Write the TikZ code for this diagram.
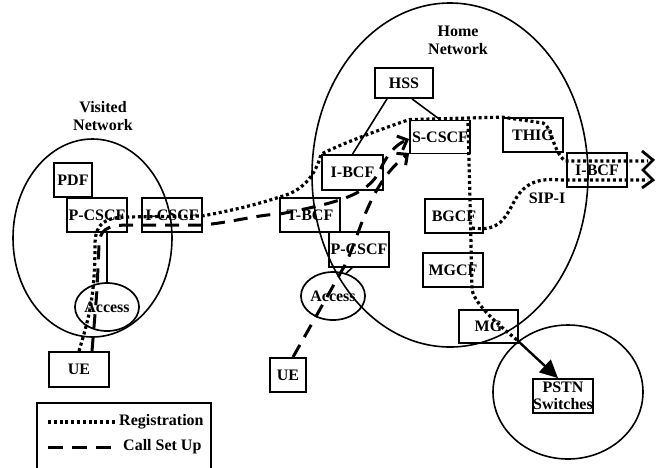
\documentclass[tikz,border=0pt]{standalone}
\usepackage{fontspec}
\setmainfont{Liberation Serif}
\usetikzlibrary{shapes.geometric,arrows.meta}
\tikzset{
  box/.style={draw, line width=1.8pt, inner sep=0pt, minimum width=60pt, minimum height=34pt,
    align=center, font=\fontsize{16}{17}\selectfont\bfseries},
  accessnode/.style={draw, ellipse, line width=1.7pt, inner sep=0pt, minimum width=57pt, minimum height=48pt,
    font=\fontsize{16}{18}\selectfont\bfseries},
  lbl/.style={font=\fontsize{16}{18}\selectfont\bfseries, align=center, inner sep=0pt},
  netline/.style={line width=1.6pt},
  conn/.style={line width=1.6pt},
  reg/.style={line width=3.2pt, dash pattern=on 3pt off 2.8pt},
  csu/.style={line width=3pt, dash pattern=on 14pt off 9pt},
  barb/.style={-{Straight Barb[length=8pt,width=15pt]}}
}
\begin{document}
\begin{tikzpicture}[x=1pt,y=-1pt]
\useasboundingbox (0,0) rectangle (658,467);
\clip (0,0) rectangle (658,467);

% networks
\draw[netline] (92.5,238) ellipse [x radius=79.5pt, y radius=99pt];
\draw[netline] (450,175) ellipse [x radius=138pt, y radius=172pt];
\draw[netline] (568,392) ellipse [x radius=75pt, y radius=67pt];

\node[lbl] (vnet) at (103,116) {Visited\\Network};
\node[lbl] (hnet) at (458,40) {Home\\Network};
\node[lbl] (sipi) at (547,198) {SIP-I};

% visited network
\node[box, minimum width=38pt] (pdf) at (73,180) {PDF};
\node[box] (vpcscf) at (97,215) {P-CSCF};
\node[box] (icscf) at (172,215) {I-CSCF};
\node[accessnode, minimum width=58pt] (vacc) at (107,307) {Access};
\node[box, minimum height=35pt] (vue) at (79,369.5) {UE};

% home network
\node[box, minimum width=58pt, minimum height=30pt] (hss) at (404,83) {HSS};
\node[box, minimum height=33pt] (scscf) at (440,137) {S-CSCF};
\node[box, minimum width=61pt, minimum height=35pt] (ibcfa) at (352.5,172.5) {I-BCF};
\node[box] (tbcf) at (310,215) {T-BCF};
\node[box, minimum height=35pt] (hpcscf) at (359,249.5) {P-CSCF};
\node[accessnode, minimum width=56pt] (hacc) at (333,296) {Access};
\node[box, minimum width=36pt] (hue) at (288,375) {UE};
\node[box] (thig) at (533,135) {THIG};
\node[box] (ibcfb) at (597,170) {I-BCF};
\node[box, minimum width=58pt] (bgcf) at (454,216) {BGCF};
\node[box] (mgcf) at (453,270) {MGCF};
\node[box, minimum width=59pt, minimum height=33pt] (mg) at (488.5,326.5) {MG};
\node[box] (pstn) at (563,396) {PSTN\\Switches};

% solid links
\draw[conn] ([xshift=-17pt]hss.south) -- (ibcfa.north);
\draw[conn] ([xshift=8pt]hss.south) -- (scscf.north);
\draw[conn] ([xshift=10pt]vpcscf.south) -- (vacc.north);
\draw[conn] ([xshift=-7pt]hpcscf.south) -- (hacc.60);

% registration (dotted)
\draw[reg] (vue.north) .. controls (88,320) and (95,300) .. (95,245)
  .. controls (95,224) and (104,218) .. (125,217) -- (202,216)
  .. controls (235,210) and (262,203) .. (tbcf.north west)
  .. controls (310,190) and (318,165) .. (ibcfa.north west)
  .. controls (350,140) and (385,128) .. (scscf.north west)
  -- (thig.north west) -- (543,123)
  .. controls (552,126) and (552,150) .. (565,161) -- (648,161);
\draw[reg] (468,123) -- (470,200) -- (472,290)
  .. controls (476,305) and (495,322) .. (517,340);
\draw[reg] (472,228) .. controls (500,232) and (505,218) .. (515,200)
  .. controls (525,182) and (540,178) .. (560,180) -- (648,180);

% MG to PSTN
\draw[line width=2.4pt, -{Triangle[length=18pt,width=17pt]}] (517,340) -- ([xshift=-5pt]pstn.north);

% call set up (dashed)
\draw[csu, barb] ([xshift=13pt]vue.north) -- (97,290) -- (99,245)
  .. controls (100,230) and (106,226) .. (125,225) -- (202,225)
  .. controls (235,222) and (255,215) .. (280,214)
  .. controls (335,203) and (368,196) .. (380,170)
  .. controls (387,155) and (395,145) .. ([yshift=-2pt]scscf.west);
\draw[csu, barb] ([xshift=5pt]hue.north) -- (345,265)
  .. controls (360,235) and (368,185) .. ([yshift=-16pt]scscf.west);

% zigzag ends
\coordinate (zz1) at (642,151);
\coordinate (zz2) at (653,160);
\coordinate (zz3) at (643,170);
\coordinate (zz4) at (653,180);
\coordinate (zz5) at (642,188);
\draw[line width=2.8pt, miter limit=10] (zz1) -- (zz2) -- (zz3) -- (zz4) -- (zz5);

% legend
\draw[line width=1.6pt] (37,403) rectangle (211,480);
\coordinate (la) at (48,422);
\coordinate (lb) at (117,422);
\coordinate (lc) at (48,447);
\coordinate (ld) at (115,447);
\draw[reg] (la) -- (lb);
\draw[csu, dash pattern=on 15pt off 9pt] (lc) -- (ld);
\node[lbl, anchor=west] (lreg) at (119,422) {Registration};
\node[lbl, anchor=west] (lcsu) at (123,447) {Call Set Up};
\end{tikzpicture}
\end{document}
